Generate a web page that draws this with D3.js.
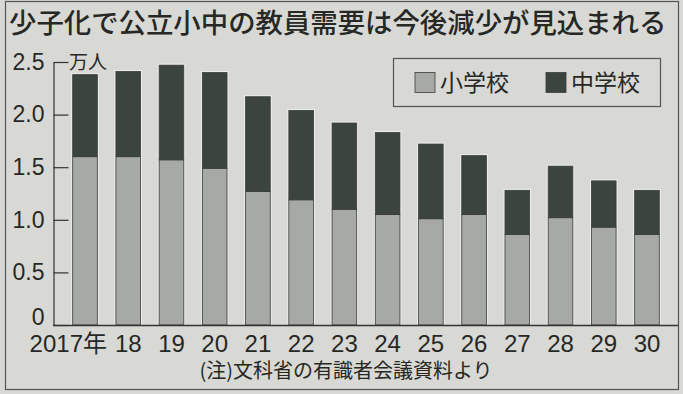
<!DOCTYPE html>
<html>
<head>
<meta charset="utf-8">
<script src="https://cdn.jsdelivr.net/npm/d3@7"></script>
<style>
    body { margin: 0; background: #d8d9d4; }
    svg { display: block; }
    .jp { font-family: "Noto Sans CJK JP", "Noto Sans", sans-serif; fill: #262826; }
    .num { font-family: "Liberation Sans Narrow", "Liberation Sans", "Noto Sans CJK JP", sans-serif; fill: #262826; }
</style>
</head>
<body>
<div id="graph"></div>
<script>
// Data (unit: 10,000 people)
var years = ["2017", "18", "19", "20", "21", "22", "23", "24", "25", "26", "27", "28", "29", "30"];
var elementary = [1.60, 1.60, 1.57, 1.49, 1.27, 1.19, 1.10, 1.05, 1.01, 1.05, 0.86, 1.02, 0.93, 0.86];
var juniorHigh = [0.78, 0.81, 0.90, 0.91, 0.90, 0.85, 0.82, 0.78, 0.71, 0.56, 0.42, 0.49, 0.44, 0.42];
var yTicks = [0, 0.5, 1, 1.5, 2, 2.5];
var seriesNames = ["小学校", "中学校"];
var seriesColors = ["#a7a9a4", "#3c443f"];

var width = 683, height = 394;

var svg = d3.select("#graph").append("svg")
    .attr("width", width)
    .attr("height", height);

// Outer frame
svg.append("rect")
    .attr("x", 5.5).attr("y", 1.5)
    .attr("width", 673).attr("height", 388)
    .attr("fill", "#d8d9d4")
    .attr("stroke", "#555").attr("stroke-width", 1.2);

// Title
svg.append("text")
    .attr("class", "jp")
    .attr("x", 9).attr("y", 33)
    .style("font-size", "27.4px")
    .style("font-weight", 500)
    .text("少子化で公立小中の教員需要は今後減少が見込まれる");

// Scales
var x = d3.scaleBand()
    .domain(years)
    .range([63.4, 668.6])
    .paddingInner(0.43)
    .paddingOuter(0.215);

var y = d3.scaleLinear()
    .domain([0, 2.5])
    .range([325, 62]);

// Stack the two series
var rows = years.map(function (d, i) {
    return { year: d, "小学校": elementary[i], "中学校": juniorHigh[i] };
});
var stacked = d3.stack().keys(seriesNames)(rows);

// Light halo behind each bar
svg.append("g").selectAll("rect")
    .data(rows)
    .enter().append("rect")
    .attr("x", function (d) { return x(d.year) - 1.5; })
    .attr("y", function (d) { return y(d["小学校"] + d["中学校"]) - 1.5; })
    .attr("width", x.bandwidth() + 3)
    .attr("height", function (d) { return y(0) - y(d["小学校"] + d["中学校"]) + 1.5; })
    .attr("fill", "#ecece8");

// Bars
svg.append("g").selectAll("g")
    .data(stacked)
    .enter().append("g")
    .attr("fill", function (d, i) { return seriesColors[i]; })
    .selectAll("rect")
    .data(function (d) { return d; })
    .enter().append("rect")
    .attr("x", function (d) { return x(d.data.year); })
    .attr("y", function (d) { return y(d[1]); })
    .attr("width", x.bandwidth())
    .attr("height", function (d) { return y(d[0]) - y(d[1]); })
    .attr("stroke", "#3a3d3a")
    .attr("stroke-width", 0.8);

// Y axis (ticks point inward)
var yAxis = svg.append("g")
    .attr("transform", "translate(53.5,0)")
    .call(d3.axisLeft(y)
        .tickValues(yTicks)
        .tickSizeInner(-15)
        .tickSizeOuter(0)
        .tickPadding(9)
        .tickFormat(function (d) { return d === 0 ? "0" : d.toFixed(1); }));
yAxis.select(".domain").attr("stroke", "#333").attr("stroke-width", 1.2);
yAxis.selectAll(".tick line").attr("stroke", "#333").attr("stroke-width", 1.2);
yAxis.selectAll(".tick text")
    .attr("class", "num")
    .style("font-size", "23px")
    .attr("fill", "#262826");
// the zero label sits on top of the baseline
yAxis.selectAll(".tick text")
    .filter(function (d) { return d === 0; })
    .attr("y", -8);

// Unit label
svg.append("text")
    .attr("class", "jp")
    .attr("x", 69).attr("y", 69)
    .style("font-size", "19px")
    .text("万人");

// Baseline
svg.append("line")
    .attr("x1", 53).attr("x2", 678)
    .attr("y1", y(0) + 0.5).attr("y2", y(0) + 0.5)
    .attr("stroke", "#333").attr("stroke-width", 1.4);

// X axis labels
var xAxis = svg.append("g")
    .attr("transform", "translate(0," + y(0) + ")")
    .call(d3.axisBottom(x).tickSize(0).tickPadding(10));
xAxis.select(".domain").remove();
xAxis.selectAll(".tick text")
    .attr("class", "num")
    .style("font-size", "24px")
    .attr("fill", "#262826");
xAxis.select(".tick text")
    .attr("text-anchor", "end")
    .attr("x", 22)
    .text(years[0] + "年");

// Legend
var legend = svg.append("g");
legend.append("rect")
    .attr("x", 393.5).attr("y", 58.5)
    .attr("width", 267).attr("height", 48)
    .attr("fill", "none")
    .attr("stroke", "#555").attr("stroke-width", 1.2);

var legendX = [415, 546];
seriesNames.forEach(function (name, i) {
    legend.append("rect")
        .attr("x", legendX[i]).attr("y", 72.5)
        .attr("width", 20).attr("height", 20)
        .attr("fill", seriesColors[i])
        .attr("stroke", "#3a3d3a").attr("stroke-width", 0.8);
    legend.append("text")
        .attr("class", "jp")
        .attr("x", legendX[i] + 25).attr("y", 91)
        .style("font-size", "23px")
        .text(name);
});

// Source note
svg.append("text")
    .attr("class", "jp")
    .attr("x", 346).attr("y", 378)
    .attr("text-anchor", "middle")
    .style("font-size", "20px")
    .text("(注)文科省の有識者会議資料より");
</script>
</body>
</html>
